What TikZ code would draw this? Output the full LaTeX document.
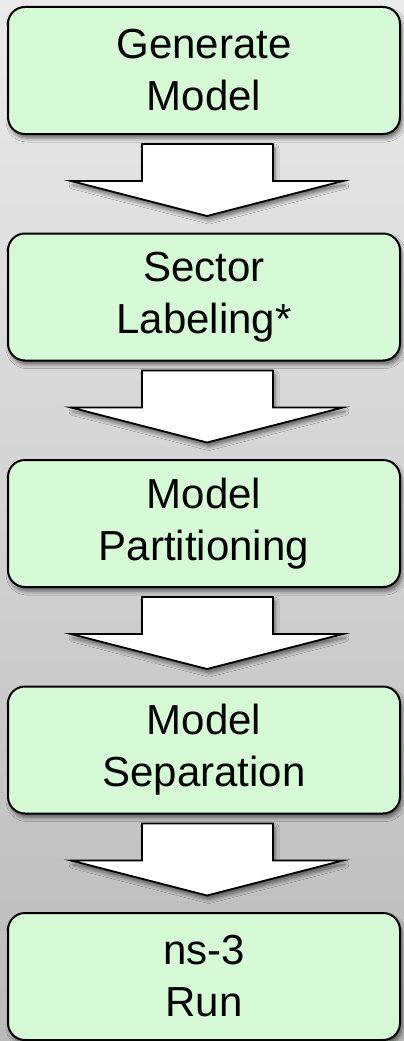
\documentclass[tikz,border=0pt]{standalone}
\usepackage{fontspec}
\setmainfont{Liberation Sans}
\usetikzlibrary{shadows.blur}
\definecolor{boxgreen}{RGB}{213,250,213}
\definecolor{bgtop}{RGB}{234,234,234}
\definecolor{bgmid}{RGB}{214,214,214}
\definecolor{bgbot}{RGB}{186,186,186}
\tikzset{
  softshadow/.style={blur shadow={shadow xshift=2pt, shadow yshift=-4pt, shadow blur radius=4pt, shadow opacity=55}},
  stepbox/.style={draw=black, line width=2pt, rounded corners=17pt, fill=boxgreen,
    minimum width=392pt, minimum height=127pt, inner sep=0pt, align=center,
    font=\fontsize{42}{52}\selectfont, softshadow},
  flowarrow/.style={draw=black, line width=1.8pt, fill=white, line join=miter, softshadow}
}

\begin{document}
\begin{tikzpicture}[x=1pt,y=1pt]
\shade[top color=bgtop, middle color=bgmid, bottom color=bgbot] (0,0) rectangle (404,-1041);
\useasboundingbox (0,0) rectangle (404,-1041);

\node[stepbox] (gen) at (204,-70.5) {Generate\\Model};
\node[stepbox] (sect) at (204,-297) {Sector\\Labeling*};
\node[stepbox] (part) at (204,-523.5) {Model\\Partitioning};
\node[stepbox] (sep) at (204,-750) {Model\\Separation};
\node[stepbox] (run) at (204,-976.5) {ns-3\\Run};

% wide block arrows under each box
\draw[flowarrow, shift={(gen.south)}] (-62,-9) -- (69,-9) -- (69,-46) -- (139,-46) -- (3,-81) -- (-133,-46) -- (-62,-46) -- cycle;
\draw[flowarrow, shift={(sect.south)}] (-62,-9) -- (69,-9) -- (69,-46) -- (139,-46) -- (3,-81) -- (-133,-46) -- (-62,-46) -- cycle;
\draw[flowarrow, shift={(part.south)}] (-62,-9) -- (69,-9) -- (69,-46) -- (139,-46) -- (3,-81) -- (-133,-46) -- (-62,-46) -- cycle;
\draw[flowarrow, shift={(sep.south)}] (-62,-9) -- (69,-9) -- (69,-46) -- (139,-46) -- (3,-81) -- (-133,-46) -- (-62,-46) -- cycle;
\end{tikzpicture}
\end{document}
